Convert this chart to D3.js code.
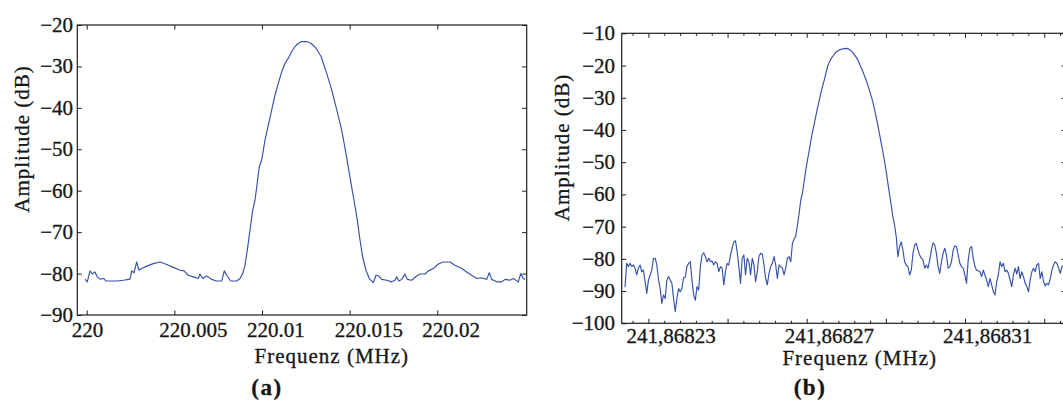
<!DOCTYPE html>
<html><head><meta charset="utf-8">
<script src="https://cdn.jsdelivr.net/npm/d3@7"></script>
<style>
body{margin:0;background:#fff}
svg text{font-family:"Liberation Serif","Times New Roman",serif;fill:#161616;stroke:#161616;stroke-width:0.3px}
</style></head><body>
<svg id="c" width="1063" height="401"></svg>
<script>
// ---------- Panel (a) data ----------
const freqA=[219.999903,220.000034,220.000188,220.000319,220.000473,220.000605,220.000759,220.000987,220.001084,220.001329,220.001711,220.002088,220.00247,220.002567,220.002698,220.002852,220.002983,220.003137,220.003422,220.003799,220.004181,220.004563,220.00494,220.005322,220.00555,220.005795,220.00608,220.006366,220.006463,220.006617,220.006845,220.00713,220.007415,220.0077,220.007849,220.007986,220.008214,220.008556,220.008744,220.008898,220.00903,220.009161,220.009315,220.009469,220.0096,220.009845,220.009982,220.01017,220.010358,220.010552,220.010741,220.010929,220.011123,220.011311,220.011499,220.011693,220.011881,220.01207,220.012264,220.012549,220.012794,220.013079,220.01337,220.013661,220.013952,220.014243,220.014528,220.014722,220.014916,220.01511,220.015247,220.015435,220.015589,220.015743,220.015931,220.01612,220.016348,220.016502,220.016673,220.016827,220.017112,220.017397,220.017585,220.017682,220.017814,220.017968,220.018156,220.018287,220.018538,220.018823,220.019012,220.019297,220.019485,220.01977,220.020055,220.020341,220.020723,220.021008,220.02139,220.021675,220.02196,220.022246,220.022531,220.022816,220.022964,220.023101,220.023386,220.023672,220.02386,220.024145,220.024333,220.024618,220.024755,220.024904,220.025001];
const ampA=[-81.35,-82,-79.35,-80.1,-79.6,-80.8,-81.35,-81.2,-81.8,-81.8,-81.8,-81.6,-81.35,-79.35,-79.8,-77.2,-79.2,-78.8,-78.2,-77.6,-77.2,-77.8,-78.5,-79.2,-79.35,-80.4,-80.8,-81.2,-80.1,-81.2,-80.6,-81.4,-81.8,-81.8,-79.35,-80.4,-81.8,-81.8,-81.2,-80,-78,-74.3,-69.5,-64.7,-62.3,-54.2,-52.6,-47.8,-44.2,-40.5,-36.9,-34.1,-31.3,-29.3,-28,-26.4,-25.2,-24.4,-24,-24,-24.4,-25.6,-27.6,-31.3,-35.3,-40.1,-45,-49.4,-54.2,-59,-62.3,-67.1,-71.9,-76,-79.2,-81.2,-82.2,-80.4,-80.6,-81.4,-81.6,-82,-81.6,-80.8,-81.8,-81.4,-80.1,-81.4,-81.6,-80.6,-80.1,-80.1,-79.35,-78.8,-77.7,-77.2,-77.2,-78,-78.8,-79.6,-80.4,-81.2,-81,-81.4,-79.8,-81.4,-82,-82,-81.4,-81.6,-81.2,-82,-80,-81.2,-81.4];
const xTicksA=[220,220.005,220.01,220.015,220.02];
const xTickLabelsA=["220","220.005","220.01","220.015","220.02"];
const yTicksA=[-90,-80,-70,-60,-50,-40,-30,-20];

// ---------- Panel (b) data (uniform frequency bins) ----------
const freqStartB=241.868224086;
const freqStepB=0.00000042301;
const ampB=[-88.8,-81.4,-82.4,-81.4,-82.4,-81.9,-82.9,-85.0,-82.9,-81.9,-84.0,-83.5,-87.1,-90.7,-86.6,-85.0,-83.5,-79.8,-79.8,-81.9,
-86.4,-89.2,-93.8,-91.2,-92.3,-86.6,-85.5,-86.6,-87.6,-92.3,-96.4,-92.3,-89.2,-90.2,-89.2,-85.7,-85.7,-82.4,-81.4,-80.9,
-86.6,-91.2,-92.8,-88.6,-89.7,-82.4,-78.8,-78.1,-79.3,-80.9,-79.8,-80.9,-80.7,-81.9,-80.9,-81.4,-84.0,-82.4,-82.9,-88.1,
-84.0,-81.4,-81.9,-78.8,-76.7,-74.7,-74.4,-77.8,-82.4,-87.6,-79.8,-78.8,-85.0,-79.8,-80.9,-85.0,-79.8,-81.9,-87.1,-84.0,
-79.3,-78.3,-78.5,-81.9,-86.1,-88.1,-84.5,-82.4,-81.4,-79.3,-81.9,-86.1,-81.9,-82.4,-82.9,-85.0,-82.9,-79.8,-79.3,-80.9,
-75.2,-73.9,-72.9,-69.5,-65.9,-61.7,-59.5,-56.0,-52.4,-49.3,-46.6,-43.3,-40.6,-38.2,-35.6,-33.1,-30.9,-28.5,-26.5,-24.5,
-22.4,-20.3,-19.0,-18.0,-17.2,-16.5,-15.9,-15.5,-15.2,-15.0,-14.85,-14.75,-14.7,-14.75,-15.0,-15.4,-15.9,-16.6,-17.4,-18.2,
-19.4,-20.6,-21.8,-23.2,-24.5,-26.0,-27.7,-29.4,-31.2,-33.5,-36.0,-38.5,-41.2,-44.0,-46.7,-49.6,-52.8,-56.5,-60.0,-63.3,
-67.0,-69.5,-73.1,-79.3,-76.2,-74.7,-77.3,-80.9,-81.9,-82.4,-85.0,-83.5,-78.3,-75.7,-75.2,-77.3,-78.8,-79.8,-80.4,-82.9,
-81.9,-82.9,-80.4,-77.3,-75.0,-75.7,-78.3,-82.4,-84.5,-80.9,-78.3,-76.7,-78.8,-82.9,-82.4,-80.9,-77.3,-76.0,-76.2,-78.8,
-81.4,-82.4,-82.9,-85.0,-87.6,-80.4,-76.7,-76.2,-79.8,-82.4,-83.5,-83.7,-84.0,-85.5,-83.5,-85.0,-86.6,-88.6,-86.1,-88.1,
-90.2,-91.2,-87.1,-85.0,-80.9,-82.4,-81.4,-84.0,-83.5,-84.5,-86.6,-88.6,-85.0,-82.9,-84.7,-82.4,-86.1,-84.0,-85.5,-87.6,
-88.6,-90.2,-86.6,-84.0,-82.9,-84.0,-81.9,-81.4,-86.1,-84.0,-87.1,-88.4,-87.6,-88.1,-86.1,-83.5,-81.9,-80.9,-81.4,-82.9,
-84.5,-82.4,-81.9,-84.0];
const xMajorTicksB=[241.86823,241.86825,241.86827,241.86829,241.86831,241.86833];
const xMinorStepB=0.000004;
const xLabelTicksB=[241.86823,241.86827,241.86831];
const xTickLabelsB=["241,86823","241,86827","241,86831"];
const yTicksB=[-100,-90,-80,-70,-60,-50,-40,-30,-20,-10];

const svg=d3.select("#c");
const fmtMinus=v=>String(v).replace("-","\u2212");
const lineColor="#3451ab";
const axisColor="#1e1e1e";

function panel(cfg){
  const g=svg.append("g");
  const x=d3.scaleLinear().domain(cfg.xDomain).range([cfg.left,cfg.right]);
  const y=d3.scaleLinear().domain(cfg.yDomain).range([cfg.bottom,cfg.top]);
  const clipId="clip"+cfg.id;
  svg.append("clipPath").attr("id",clipId).append("rect")
    .attr("x",cfg.left).attr("y",cfg.top).attr("width",cfg.right-cfg.left).attr("height",cfg.bottom-cfg.top);

  // curve
  g.append("path").datum(cfg.data)
    .attr("clip-path",`url(#${clipId})`)
    .attr("fill","none").attr("stroke",lineColor).attr("stroke-width",1.15)
    .attr("stroke-linejoin","round")
    .attr("d",d3.line().x(d=>x(d.f)).y(d=>y(d.a)));

  // ticks via axes (inward)
  const mk=(axisFn,vals,size,tx,ty)=>{
    const a=g.append("g").attr("transform",`translate(${tx},${ty})`)
      .call(axisFn.tickValues(vals).tickSize(size).tickFormat(""));
    a.select(".domain").remove();
    a.selectAll("line").attr("stroke",axisColor).attr("stroke-width",1);
    a.selectAll("text").remove();
  };
  mk(d3.axisBottom(x),cfg.xMajor,-cfg.majorLen,0,cfg.bottom);
  mk(d3.axisTop(x),cfg.xMajor,-cfg.majorLen,0,cfg.top);
  if(cfg.xMinor){
    mk(d3.axisBottom(x),cfg.xMinor,-cfg.minorLen,0,cfg.bottom);
    mk(d3.axisTop(x),cfg.xMinor,-cfg.minorLen,0,cfg.top);
  }
  mk(d3.axisLeft(y),cfg.yTicks,-cfg.majorLen,cfg.left,0);
  mk(d3.axisRight(y),cfg.yTicks,-cfg.majorLen,cfg.right,0);

  // frame
  g.append("rect").attr("x",cfg.left).attr("y",cfg.top)
    .attr("width",cfg.right-cfg.left).attr("height",cfg.bottom-cfg.top)
    .attr("fill","none").attr("stroke",axisColor).attr("stroke-width",1.2);

  // y tick labels
  g.selectAll(".yl").data(cfg.yTicks).join("text")
    .attr("x",cfg.yLabelX).attr("y",d=>y(d)+7)
    .attr("text-anchor","end").style("font-size","21px")
    .text(fmtMinus);
  // x tick labels
  g.selectAll(".xl").data(cfg.xLabelVals).join("text")
    .attr("x",d=>x(d)+cfg.xLabelShift).attr("y",cfg.xLabelY)
    .attr("text-anchor","start").style("font-size","21px")
    .text((d,i)=>cfg.xLabels[i]);
  // titles
  g.append("text").attr("text-anchor","middle")
    .attr("transform",`translate(${cfg.yTitle[0]},${cfg.yTitle[1]}) rotate(-90)`)
    .attr("dy","0.35em").style("font-size","21px").style("letter-spacing","1px")
    .text("Amplitude (dB)");
  g.append("text").attr("text-anchor","middle")
    .attr("x",cfg.xTitle[0]).attr("y",cfg.xTitle[1])
    .style("font-size","21px").style("letter-spacing","1px")
    .text("Frequenz (MHz)");
  g.append("text").attr("text-anchor","middle")
    .attr("x",cfg.sub[0]).attr("y",cfg.sub[1])
    .style("font-size","23px").style("font-weight","bold").style("letter-spacing","1.5px")
    .text(cfg.subLabel);
}

panel({
  id:"a",left:77.3,right:526.7,top:25,bottom:315,
  xDomain:[219.999464,220.025098],yDomain:[-90,-20],
  data:freqA.map((f,i)=>({f,a:ampA[i]})).filter(d=>d.a!==undefined),
  xMajor:xTicksA,xMinor:null,majorLen:4.5,minorLen:2.5,
  yTicks:yTicksA,yLabelX:73,
  xLabelVals:xTicksA,xLabels:xTickLabelsA,xLabelShift:-15,xLabelY:337,
  yTitle:[21.5,139],xTitle:[331.8,363],sub:[267,395],subLabel:"(a)"
});

const dataB=ampB.map((a,i)=>({f:freqStartB+i*freqStepB,a}));
const minorB=d3.range(241.868226,241.868336,xMinorStepB).filter(v=>!xMajorTicksB.some(m=>Math.abs(m-v)<1e-9));
panel({
  id:"b",left:621.7,right:1066,top:33.3,bottom:323.3,
  xDomain:[241.86822325,241.86833551],yDomain:[-100,-10],
  data:dataB,
  xMajor:xMajorTicksB,xMinor:minorB,majorLen:4.5,minorLen:2.5,
  yTicks:yTicksB,yLabelX:615,
  xLabelVals:xLabelTicksB,xLabels:xTickLabelsB,xLabelShift:-22,xLabelY:343,
  yTitle:[561.7,147.5],xTitle:[859.7,365],sub:[810,395],subLabel:"(b)"
});
</script></body></html>
